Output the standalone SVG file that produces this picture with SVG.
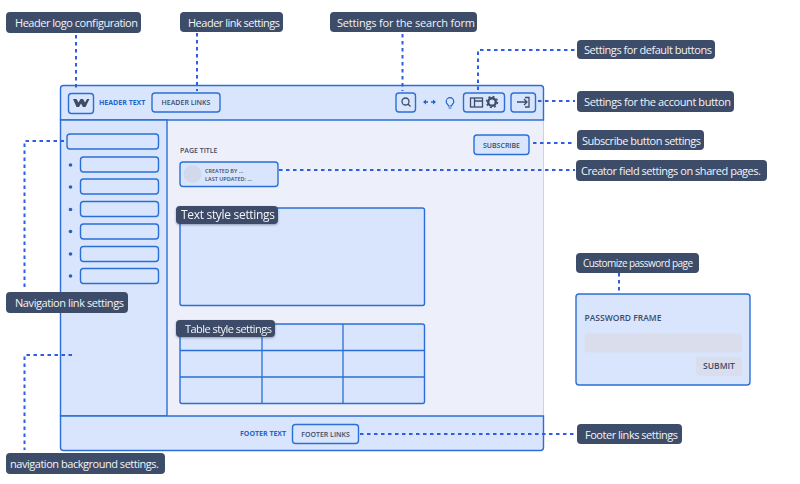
<svg xmlns="http://www.w3.org/2000/svg" width="800" height="484" viewBox="0 0 800 484">
<defs>
<filter id="sh" x="-10%" y="-20%" width="120%" height="150%"><feDropShadow dx="0" dy="1" stdDeviation="1.200" flood-color="#2b3a58" flood-opacity="0.450"/></filter>
</defs>
<style>
text{font-family:"Open Sans","Noto Sans","Liberation Sans",sans-serif}
.lb rect{fill:#3d4c68}
.lb text{fill:#f2f4f8;font-size:11px;dominant-baseline:central}
.box{fill:#d8e5fc;stroke:#2b6fd6;stroke-width:1.400}
.nav{fill:#d8e5fc;stroke:#2b6fd6;stroke-width:1.400}
.cn{fill:none;stroke:#2f5fe0;stroke-width:2;stroke-dasharray:3.500 3.500}
.sm{fill:#3d4c68;font-weight:600;font-size:7px}
.blue{fill:#1f66cc;font-weight:700;font-size:7px}
.ic{fill:none;stroke:#3d4c68;stroke-width:1.300}
.dot{fill:#2560c0}
</style>
<rect width="800" height="484" fill="#fff"/>
<g id="frame">
<rect x="60.500" y="85.500" width="483" height="365" rx="3" fill="#edf0fa" stroke="#c9d2e6"/>
<path class="box" d="M60.500 120V88.500a3 3 0 0 1 3-3H540.500a3 3 0 0 1 3 3V120Z"/>
<path class="box" d="M60.500 120H167V416H60.500Z"/>
<path class="box" d="M60.500 416H543.500V447.500a3 3 0 0 1-3 3H63.500a3 3 0 0 1-3-3Z"/>
</g>
<g id="logo">
<rect class="box" x="68.500" y="93.500" width="25" height="20" rx="3"/>
<path d="M73 99h3.500l2 3.500 2-3.500h2.500l2 3.500 2-3.500h2.500l-4 8h-2.500l-2-3.500-2 3.500h-2.500Z" fill="#3d4c68"/>
</g>
<g id="header-text"><text class="blue" x="99" y="105">HEADER TEXT</text></g>
<g id="header-links">
<rect class="box" x="152" y="93" width="68" height="19" rx="3"/>
<text class="sm" x="186" y="105" text-anchor="middle">HEADER LINKS</text>
</g>
<g id="search">
<rect class="box" x="396" y="93" width="19.500" height="19" rx="3"/>
<circle class="ic" cx="405.500" cy="101.500" r="3.500"/><path class="ic" d="M408 104l2.500 2.500"/>
</g>
<g id="toggle">
<path d="M424 102h4M431 102h4" stroke="#1f66cc" stroke-width="1.300"/>
<path d="M423 102l3-2.500v5ZM436 102l-3-2.500v5Z" fill="#1f66cc"/>
</g>
<g id="bulb">
<path d="M448.500 106c0-1.500-2.300-2-2.300-4.500a3.800 3.800 0 1 1 7.600 0c0 2.500-2.300 3-2.300 4.500ZM448.500 108h3" fill="none" stroke="#1f66cc" stroke-width="1.200"/>
</g>
<g id="default-buttons">
<rect class="box" x="463.500" y="93" width="41" height="19" rx="3"/>
<rect class="ic" x="470.500" y="98" width="12" height="9"/><path class="ic" d="M474.500 98v9M474.500 101h8"/>
<circle cx="492" cy="102" r="3.800" fill="none" stroke="#3d4c68" stroke-width="2.400"/>
<circle cx="492" cy="102" r="5.500" fill="none" stroke="#3d4c68" stroke-width="1.400" stroke-dasharray="2 2.300"/>
</g>
<g id="account-button">
<rect class="box" x="511" y="93" width="24.500" height="19" rx="3"/>
<path class="ic" d="M517 102h10M524 99l3 3-3 3M525 97.500h4v9.500h-4"/>
</g>
<g id="nav-items">
<rect class="nav" x="67" y="134" width="91.500" height="15" rx="3"/>
<g id="nav-1"><circle class="dot" cx="70.500" cy="165" r="1.800"/><rect class="nav" x="80.500" y="157" width="78" height="15" rx="3"/></g>
<g id="nav-2"><circle class="dot" cx="70.500" cy="187" r="1.800"/><rect class="nav" x="80.500" y="179" width="78" height="15" rx="3"/></g>
<g id="nav-3"><circle class="dot" cx="70.500" cy="209.500" r="1.800"/><rect class="nav" x="80.500" y="201.500" width="78" height="15" rx="3"/></g>
<g id="nav-4"><circle class="dot" cx="70.500" cy="231.500" r="1.800"/><rect class="nav" x="80.500" y="224" width="78" height="15" rx="3"/></g>
<g id="nav-5"><circle class="dot" cx="70.500" cy="254" r="1.800"/><rect class="nav" x="80.500" y="246.500" width="78" height="15" rx="3"/></g>
<g id="nav-6"><circle class="dot" cx="70.500" cy="276" r="1.800"/><rect class="nav" x="80.500" y="268.500" width="78" height="15" rx="3"/></g>
</g>
<g id="page-title"><text class="sm" x="180" y="153">PAGE TITLE</text></g>
<g id="subscribe">
<rect class="box" x="474" y="135" width="55" height="19.500" rx="3"/>
<text class="sm" x="501.500" y="148" text-anchor="middle">SUBSCRIBE</text>
</g>
<g id="creator">
<rect class="box" x="180" y="162" width="98" height="24.500" rx="3"/>
<circle cx="192.500" cy="174" r="9" fill="#d3d9ec"/>
<text x="205" y="173" fill="#3d4c68" font-size="5.500" font-weight="600">CREATED BY ...</text>
<text x="205" y="181" fill="#3d4c68" font-size="5.500" font-weight="600">LAST UPDATED: ...</text>
</g>
<g id="text-style"><rect class="box" x="180" y="208" width="244.500" height="97.500" rx="2"/></g>
<g id="table-style">
<rect class="box" x="180" y="324" width="244.500" height="79.500" rx="2"/>
<path d="M180 350.500H424.500M180 377H424.500M262 324V403.500M343 324V403.500" stroke="#2b6fd6" stroke-width="1.300" fill="none"/>
</g>
<g id="footer-text"><text class="blue" x="240" y="436">FOOTER TEXT</text></g>
<g id="footer-links">
<rect class="box" x="292.500" y="424.500" width="66" height="19" rx="3"/>
<text class="sm" x="325.500" y="436.500" text-anchor="middle">FOOTER LINKS</text>
</g>
<g id="password-frame">
<rect class="box" x="576" y="294" width="174" height="91" rx="3"/>
<text x="584.500" y="321" fill="#3d4c68" font-size="8.500" font-weight="600">PASSWORD FRAME</text>
<rect x="584.500" y="333.500" width="157.500" height="19" rx="3" fill="#dadeec"/>
<rect x="696" y="357" width="46" height="19" rx="3" fill="#dadeec"/>
<text x="719" y="369" fill="#3d4c68" font-size="8.500" font-weight="600" text-anchor="middle">SUBMIT</text>
</g>
<g id="connectors">
<path class="cn" d="M76 35V89"/>
<path class="cn" d="M197 33V91"/>
<path class="cn" d="M402.500 34V91"/>
<path class="cn" d="M478 90V50H575"/>
<path class="cn" d="M538 101H575"/>
<path class="cn" d="M533 143H575"/>
<path class="cn" d="M279 170H575"/>
<path class="cn" d="M619 273V292"/>
<path class="cn" d="M360 434H575"/>
<path class="cn" d="M64 141H24.500V290"/>
<path class="cn" d="M72 355H24.500V450"/>
</g>
<g id="label-header-logo" class="lb"><rect x="6" y="12" width="135" height="21" rx="4"/><text x="15" y="22" textLength="123">Header logo configuration</text></g>
<g id="label-header-link" class="lb"><rect x="180" y="12" width="103" height="20" rx="4"/><text x="188" y="22" textLength="92">Header link settings</text></g>
<g id="label-search" class="lb"><rect x="330" y="12" width="147" height="20" rx="4"/><text x="337" y="22" textLength="138">Settings for the search form</text></g>
<g id="label-default" class="lb"><rect x="577" y="40" width="138" height="19" rx="4"/><text x="584" y="49.500" textLength="128">Settings for default buttons</text></g>
<g id="label-account" class="lb"><rect x="577" y="91" width="157" height="21" rx="4"/><text x="584" y="101.500" textLength="147">Settings for the account button</text></g>
<g id="label-subscribe" class="lb"><rect x="577" y="130" width="127" height="20" rx="4"/><text x="582" y="140.500" textLength="119">Subscribe button settings</text></g>
<g id="label-creator" class="lb"><rect x="576" y="160" width="191" height="21" rx="4"/><text x="581" y="170.500" textLength="180">Creator field settings on shared pages.</text></g>
<g id="label-password" class="lb"><rect x="576" y="253" width="123" height="20" rx="4"/><text x="583" y="263" textLength="110" style="font-size:10px">Customize password page</text></g>
<g id="label-footer" class="lb"><rect x="577" y="424" width="105" height="20" rx="4"/><text x="585" y="434.500" textLength="93">Footer links settings</text></g>
<g id="label-nav-link" class="lb"><rect x="6" y="292" width="122" height="21" rx="4"/><text x="15" y="302.500" textLength="109">Navigation link settings</text></g>
<g id="label-nav-bg" class="lb"><rect x="6" y="453" width="159" height="21" rx="4"/><text x="10" y="463.500" textLength="149">navigation background settings.</text></g>
<g id="label-text-style" class="lb" filter="url(#sh)"><rect x="176" y="206" width="102" height="18" rx="4"/><text x="181" y="214.500" textLength="94" style="font-size:12px">Text style settings</text></g>
<g id="label-table-style" class="lb" filter="url(#sh)"><rect x="176" y="320" width="99" height="17" rx="4"/><text x="185" y="328.500" textLength="87">Table style settings</text></g>
</svg>
